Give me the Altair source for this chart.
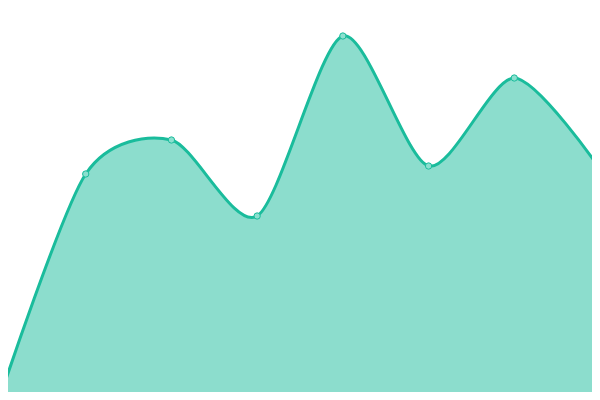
import altair as alt
import pandas as pd

x_vals = [0, 1, 2, 3, 4, 5, 6, 7]
y_vals = [3, 226, 260, 184, 364, 234, 322, 231]

df = pd.DataFrame({"x": x_vals, "y": y_vals})

LINE = "#1abc9c"
FILL = "#8be0cf"

# visible window of the reference (page margin of 8px trimmed off the edges)
xs = alt.Scale(domain=[0.0933, 6.9067], nice=False, zero=False)
ys = alt.Scale(domain=[8, 392], nice=False, zero=False)

base = alt.Chart(df).encode(
    x=alt.X("x:Q", scale=xs, axis=None),
    y=alt.Y("y:Q", scale=ys, axis=None),
)

area = base.mark_area(interpolate="cardinal", tension=0.2, color=LINE, fillOpacity=0.5)
line = base.mark_line(interpolate="cardinal", tension=0.2, color=LINE, strokeWidth=3)
pts = base.mark_circle(size=40, fill=FILL, stroke=LINE, strokeWidth=1, opacity=1)

chart = (
    alt.layer(area, line, pts)
    .properties(
        width=584,
        height=384,
        padding={"left": 0, "top": 0, "right": 0, "bottom": 0},
        autosize=alt.AutoSizeParams(type="none"),
    )
    .configure_view(stroke=None)
)

chart.save("out.html", embed_options={"renderer": "svg", "actions": False})
